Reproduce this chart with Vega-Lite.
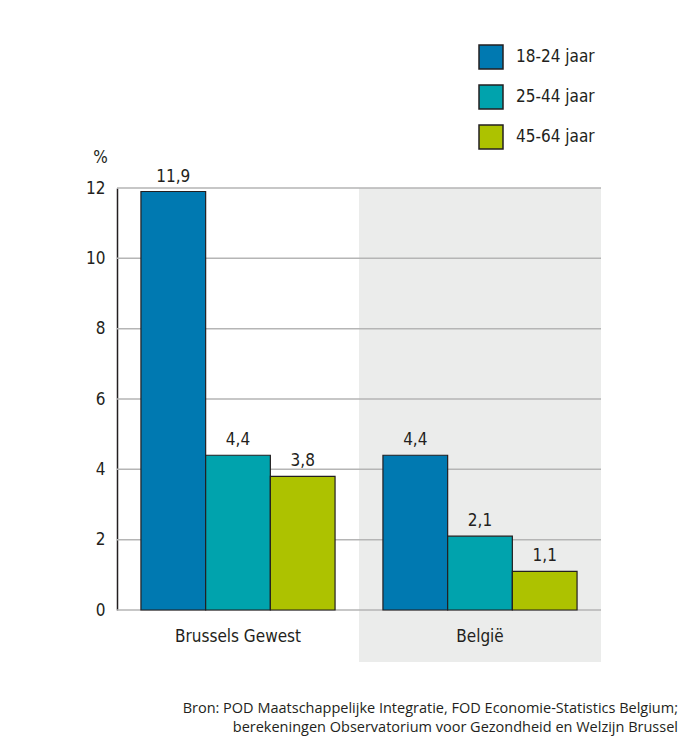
{
  "$schema": "https://vega.github.io/schema/vega-lite/v6.json",
  "autosize": "none",
  "width": 484,
  "height": 422,
  "padding": {"left": 117, "top": 188, "right": 79, "bottom": 130},
  "background": "white",
  "config": {
    "view": {"stroke": null},
    "locale": {"number": {"decimal": ",", "thousands": ".", "grouping": [3], "currency": ["€", ""]}},
    "font": "DejaVu Sans Condensed, Roboto, sans-serif"
  },
  "datasets": {
    "bars": [
      {"regio": "Brussels Gewest", "leeftijd": "18-24 jaar", "pct": 11.9},
      {"regio": "Brussels Gewest", "leeftijd": "25-44 jaar", "pct": 4.4},
      {"regio": "Brussels Gewest", "leeftijd": "45-64 jaar", "pct": 3.8},
      {"regio": "België", "leeftijd": "18-24 jaar", "pct": 4.4},
      {"regio": "België", "leeftijd": "25-44 jaar", "pct": 2.1},
      {"regio": "België", "leeftijd": "45-64 jaar", "pct": 1.1}
    ],
    "band": [{"regio": "België", "top": 12, "bottom": -1.48}],
    "grid": [{"y": 0}, {"y": 2}, {"y": 4}, {"y": 6}, {"y": 8}, {"y": 10}, {"y": 12}]
  },
  "title": {
    "text": ["Bron: POD Maatschappelijke Integratie, FOD Economie-Statistics Belgium;", "berekeningen Observatorium voor Gezondheid en Welzijn Brussel"],
    "orient": "bottom",
    "anchor": "end",
    "align": "right",
    "frame": "group",
    "dx": 77,
    "offset": 40,
    "font": "Open Sans",
    "fontSize": 14.5,
    "fontWeight": "normal",
    "color": "#231f20",
    "lineHeight": 18.5
  },
  "layer": [
    {
      "data": {"name": "band"},
      "mark": {"type": "rect", "color": "#ebeceb"},
      "encoding": {
        "x": {"field": "regio", "type": "nominal", "sort": ["Brussels Gewest", "België"],
              "scale": {"domain": ["Brussels Gewest", "België"], "paddingInner": 0, "paddingOuter": 0},
              "axis": {"title": null, "domain": false, "ticks": false, "labelAngle": 0, "labelPadding": 18,
                       "labelFontSize": 17, "labelColor": "#231f20"}},
        "y": {"field": "top", "type": "quantitative"},
        "y2": {"field": "bottom"}
      }
    },
    {
      "data": {"name": "grid"},
      "mark": {"type": "rule", "color": "#b5b5b5", "strokeWidth": 1.5},
      "encoding": {"y": {"field": "y", "type": "quantitative"}}
    },
    {
      "data": {"name": "bars"},
      "mark": {"type": "bar", "stroke": "#231f20", "strokeWidth": 1.2},
      "encoding": {
        "x": {"field": "regio", "type": "nominal", "sort": ["Brussels Gewest", "België"]},
        "xOffset": {"field": "leeftijd", "type": "nominal", "scale": {"paddingInner": 0, "paddingOuter": 0.37}},
        "y": {"field": "pct", "type": "quantitative",
              "scale": {"domain": [0, 12], "nice": false},
              "axis": {"values": [0, 2, 4, 6, 8, 10, 12], "grid": false, "ticks": false, "labelPadding": 12,
                       "labelFontSize": 17, "labelColor": "#231f20",
                       "domainColor": "#231f20", "domainWidth": 1.5,
                       "title": "%", "titleAngle": 0, "titleX": -17, "titleY": -31, "titleAlign": "center",
                       "titleBaseline": "middle", "titleFontSize": 17, "titleFontWeight": "normal",
                       "titleColor": "#231f20"}},
        "color": {"field": "leeftijd", "type": "nominal",
                  "scale": {"domain": ["18-24 jaar", "25-44 jaar", "45-64 jaar"], "range": ["#0079b1", "#00a3ad", "#adc200"]},
                  "legend": {"title": null, "orient": "none", "legendX": 361, "legendY": -144,
                             "symbolType": "square", "symbolSize": 576, "symbolStrokeColor": "#231f20",
                             "symbolStrokeWidth": 1.5, "symbolOpacity": 1, "rowPadding": 10, "labelFontSize": 17,
                             "labelColor": "#231f20", "labelOffset": 12}}
      }
    },
    {
      "data": {"name": "bars"},
      "mark": {"type": "text", "baseline": "bottom", "dy": -6, "fontSize": 17, "color": "#231f20"},
      "encoding": {
        "x": {"field": "regio", "type": "nominal", "sort": ["Brussels Gewest", "België"]},
        "xOffset": {"field": "leeftijd", "type": "nominal"},
        "y": {"field": "pct", "type": "quantitative"},
        "text": {"field": "pct", "type": "quantitative", "format": ".1f"}
      }
    }
  ]
}
